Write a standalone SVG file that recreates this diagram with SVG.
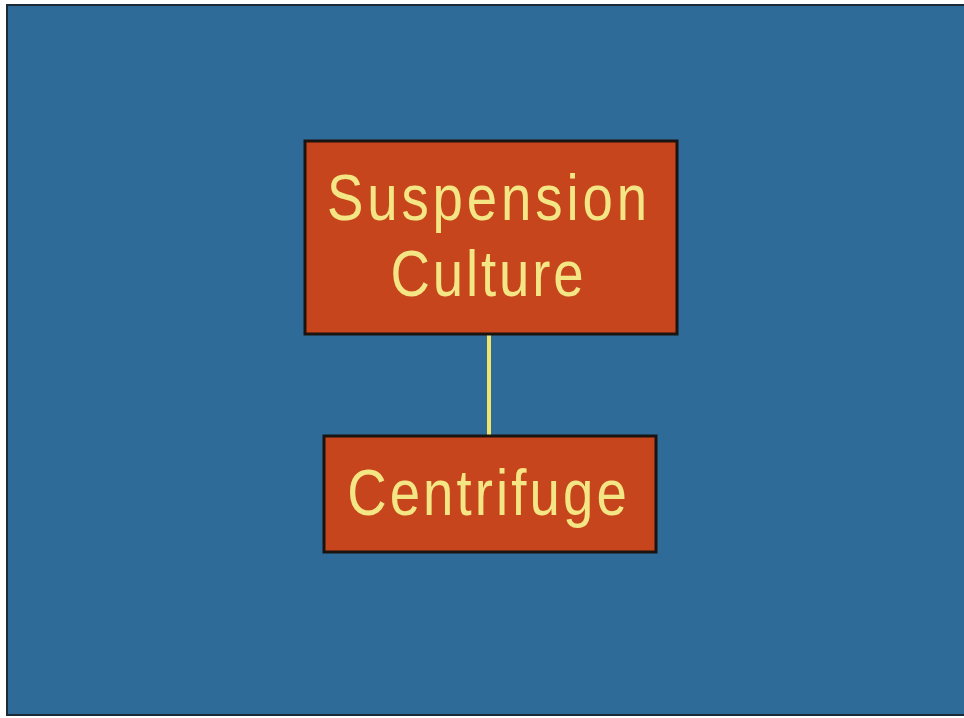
<svg xmlns="http://www.w3.org/2000/svg" width="964" height="718" viewBox="0 0 964 718">
  <style>
    .box { fill: #c6451d; stroke: #1a1410; stroke-width: 3; }
    .label { font-family: "Liberation Sans", Arial, sans-serif; font-size: 65px; fill: #f4e684; text-anchor: middle; }
    .link { stroke: #f2e46a; stroke-width: 4; fill: none; }
  </style>
  <!-- slide background -->
  <rect x="0" y="0" width="964" height="718" fill="#ffffff"/>
  <rect x="7" y="5" width="960" height="710" fill="#2e6b98" stroke="#1b2a36" stroke-width="2"/>

  <g id="connectors">
    <line class="link" x1="489" y1="335" x2="489" y2="435"/>
  </g>

  <g id="suspension-culture">
    <rect class="box" x="305" y="141" width="372" height="193"/>
    <g transform="translate(487,0) scale(0.84,1)">
      <text class="label" x="0" y="220" textLength="381" lengthAdjust="spacing">Suspension</text>
      <text class="label" x="0" y="296" textLength="230" lengthAdjust="spacing">Culture</text>
    </g>
  </g>

  <g id="centrifuge">
    <rect class="box" x="324" y="436" width="332" height="116"/>
    <g transform="translate(487,0) scale(0.84,1)">
      <text class="label" x="0" y="515" textLength="333" lengthAdjust="spacing">Centrifuge</text>
    </g>
  </g>
</svg>
